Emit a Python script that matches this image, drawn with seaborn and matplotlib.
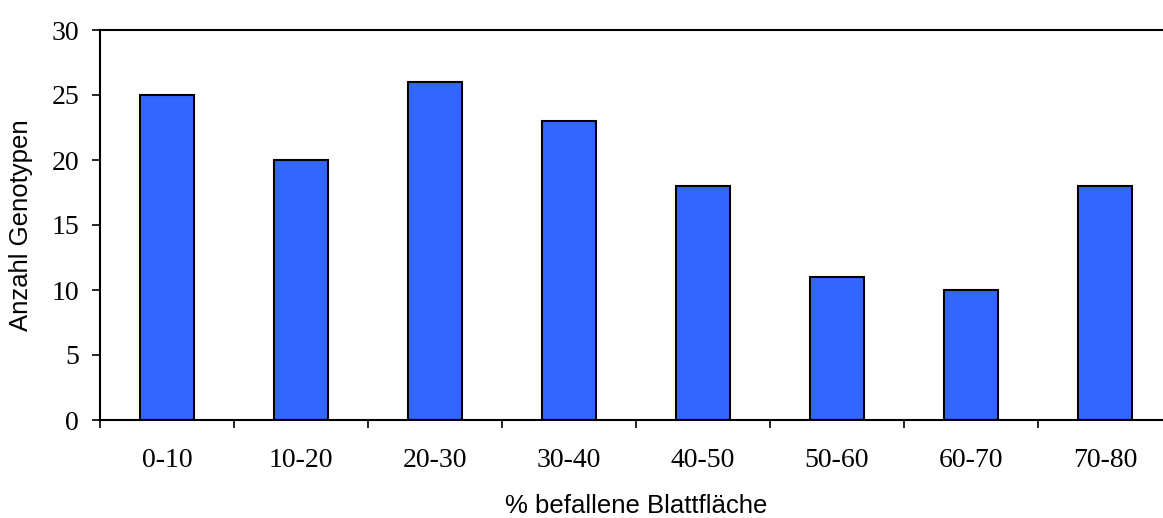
import matplotlib
matplotlib.use("Agg")
import matplotlib.pyplot as plt
from matplotlib.ticker import FixedLocator
import seaborn as sns
import pandas as pd

# Number of genotypes per infected-leaf-area class
categories = ["0-10", "10-20", "20-30", "30-40", "40-50", "50-60", "60-70", "70-80"]
counts = [25, 20, 26, 23, 18, 11, 10, 18]
y_ticks = [0, 5, 10, 15, 20, 25, 30]

sns.set_style("white")

label_family = ["Liberation Sans", "DejaVu Sans"]
tick_family = ["Liberation Serif", "DejaVu Serif"]

df = pd.DataFrame({"klasse": categories, "anzahl": counts})

fig = plt.figure(figsize=(11.63, 5.18), dpi=100)
ax = fig.add_axes([100 / 1163, 1 - 420 / 518, 1072 / 1163, 390 / 518])

sns.barplot(data=df, x="klasse", y="anzahl", color="#3366FF", saturation=1,
            width=0.4, edgecolor="black", linewidth=1.5, ax=ax)

ax.set_xlim(-0.5, len(categories) - 0.5)
ax.set_ylim(0, 30)
ax.set_yticks(y_ticks)

ax.spines["right"].set_visible(False)
for side in ("left", "bottom", "top"):
    ax.spines[side].set_color("black")
    ax.spines[side].set_linewidth(1.5)

# tick marks sit on the category boundaries, labels centred under the bars
ax.xaxis.set_minor_locator(FixedLocator([i - 0.5 for i in range(len(categories) + 1)]))
ax.tick_params(axis="x", which="major", length=0, pad=20)
ax.tick_params(axis="x", which="minor", length=6, width=1.2, color="black",
               direction="out", bottom=True)
ax.tick_params(axis="y", which="major", length=6, width=1.2, color="black",
               direction="out", left=True, pad=9)

for lbl in ax.get_xticklabels() + ax.get_yticklabels():
    lbl.set_fontfamily(tick_family)
    lbl.set_fontsize(20)
    lbl.set_color("black")

ax.set_xlabel("% befallene Blattfläche", fontsize=18.5, family=label_family, color="black")
ax.set_ylabel("Anzahl Genotypen", fontsize=18.5, family=label_family, color="black")
ax.xaxis.set_label_coords(0.5, -0.19)
ax.yaxis.set_label_coords(-0.0625, 0.5)
ax.grid(False)

fig.savefig("out.png", dpi=100)
